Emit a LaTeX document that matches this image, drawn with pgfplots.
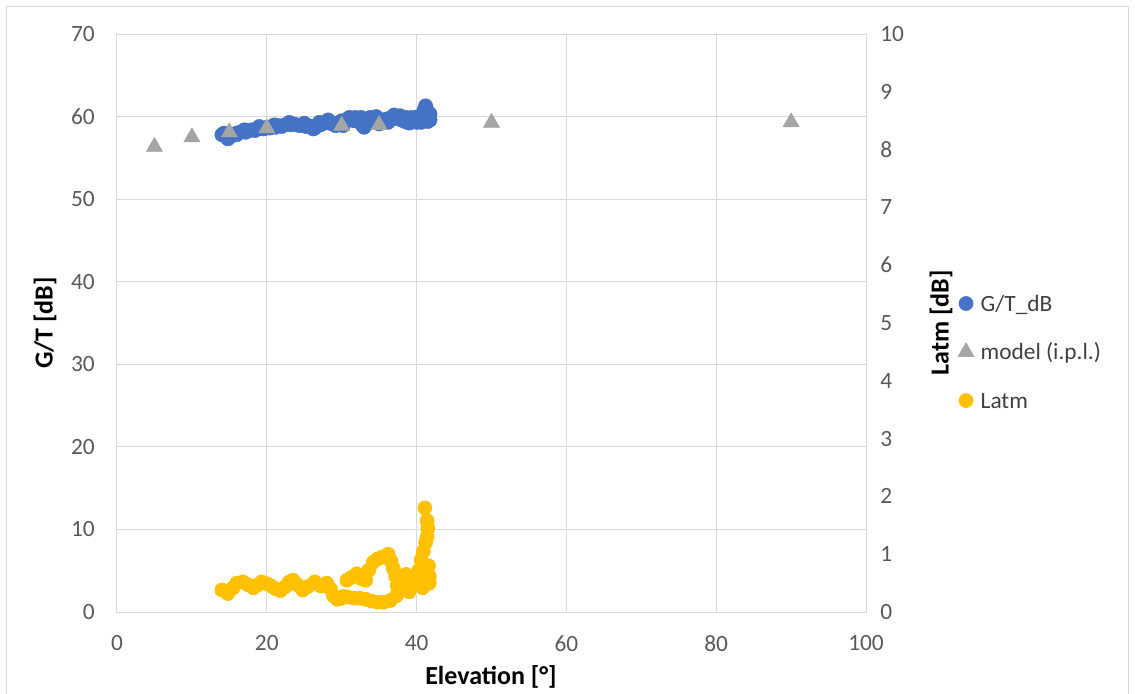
\documentclass[border=0pt]{standalone}
\usepackage{fontspec}
\setmainfont{Carlito}
\usepackage{pgfplots}
\pgfplotsset{compat=1.18}
\definecolor{cblue}{HTML}{4472C4}
\definecolor{cgray}{HTML}{A5A5A5}
\definecolor{cyel}{HTML}{FFC000}
\definecolor{gridc}{HTML}{D9D9D9}
\definecolor{tickc}{HTML}{595959}
\definecolor{legc}{HTML}{404040}

\pgfplotstableread{
x y
14.0 57.8
14.3 58.0
14.8 57.3
15.0 57.6
15.2 57.6
15.6 57.9
16.0 58.0
16.0 57.8
16.4 58.1
16.8 58.2
17.0 58.4
17.2 58.1
17.6 58.3
18.0 58.4
18.4 58.3
18.8 58.5
19.0 58.8
19.2 58.6
19.6 58.5
20.0 58.7
20.4 58.6
20.8 58.8
21.0 59.0
21.2 58.7
21.6 58.9
22.0 58.8
22.4 59.0
22.8 59.1
23.0 59.3
23.2 59.0
23.6 59.1
24.0 59.0
24.4 58.9
24.8 59.0
25.0 59.2
25.2 58.8
25.6 58.9
26.0 58.7
26.2 58.5
26.4 58.6
26.8 58.9
27.0 59.3
27.2 59.0
27.6 59.2
28.0 59.4
28.2 59.6
28.4 59.2
28.8 59.1
29.0 59.0
29.2 58.9
29.6 59.3
30.0 59.5
30.2 58.9
30.4 59.3
30.8 59.6
31.0 59.9
31.2 59.7
31.6 59.5
31.8 59.9
32.0 59.6
32.4 59.3
32.6 59.9
32.8 58.9
33.0 58.7
33.2 59.2
33.6 59.5
33.8 59.9
34.0 59.6
34.4 59.7
34.6 60.0
34.8 59.4
35.0 59.1
35.2 59.2
35.6 59.6
36.0 59.7
36.2 59.3
36.4 59.8
36.8 59.9
37.0 60.2
37.2 60.0
37.6 59.7
37.8 60.1
38.0 59.6
38.4 59.4
38.6 59.9
38.8 59.5
39.0 59.2
39.2 59.6
39.4 59.9
39.6 59.5
40.0 59.6
40.0 59.3
40.2 60.0
40.4 59.7
40.8 60.2
41.0 60.8
41.2 61.3
41.3 60.5
41.4 59.8
41.5 59.4
41.5 60.0
41.0 59.5
40.6 59.3
41.3 61.0
41.6 60.4
41.8 59.6
41.8 60.3
}\gtdata

\pgfplotstableread{
x y
5 56.34
10 57.5
15 58.1
20 58.6
30 58.9
35 59.0
50 59.26
90 59.32
}\modeldata

\pgfplotstableread{
x y
14.0 0.38
14.8 0.32
15.5 0.42
16.0 0.50
16.8 0.52
17.5 0.47
18.2 0.42
18.8 0.47
19.3 0.52
20.0 0.49
20.6 0.45
21.2 0.40
21.8 0.37
22.5 0.44
23.0 0.52
23.5 0.55
24.1 0.47
24.8 0.38
25.5 0.44
26.4 0.52
27.2 0.45
28.0 0.50
28.5 0.40
28.9 0.28
29.4 0.22
29.8 0.23
30.2 0.27
30.7 0.55
31.3 0.60
32.0 0.66
32.6 0.58
33.2 0.55
33.6 0.72
34.2 0.86
34.8 0.92
35.4 0.95
36.2 1.00
36.6 0.88
36.9 0.75
37.2 0.62
37.4 0.45
37.3 0.28
36.5 0.20
35.6 0.17
34.8 0.17
34.0 0.19
33.2 0.22
32.4 0.24
31.6 0.24
30.8 0.26
38.0 0.52
38.6 0.65
39.0 0.58
39.4 0.45
39.8 0.55
40.3 0.72
40.6 0.90
40.9 1.05
41.2 1.20
41.4 1.30
41.5 1.45
41.4 1.58
41.1 1.80
41.6 0.80
41.7 0.62
41.7 0.50
41.3 0.48
40.8 0.42
38.5 0.40
39.0 0.35
}\latmdata

\begin{document}
\begin{tikzpicture}
\pgfplotsset{
  base/.style={scale only axis, width=561.75pt, height=433.5pt,
    at={(0pt,0pt)}, anchor=south west, xmin=0, xmax=100,
    /pgf/number format/assume math mode=true,
    ticklabel style={font=\fontsize{17.5}{21}\selectfont, text=tickc, inner sep=0pt},
    tick style={draw=none},
    label style={font=\fontsize{19.5}{23}\selectfont\bfseries, text=black}},
  lgimg/.style={legend image code/.code={\path[draw=none,fill=none] (-7pt,-7pt) rectangle (7pt,7pt); \draw[##1] plot coordinates {(0pt,0pt)};}}
}
\begin{axis}[base,
  ymin=0, ymax=70, ytick={0,10,...,70}, xtick={0,20,...,100},
  grid=major, major grid style={draw=gridc, line width=0.75pt},
  axis line style={draw=gridc, line width=0.75pt},
  yticklabel style={anchor=east, xshift=-16.5pt},
  xticklabel style={anchor=north, yshift=-17.25pt},
  xlabel={Elevation [°]}, ylabel={G/T [dB]},
  xlabel style={at={(axis description cs:0.4993,-0.1125)}, anchor=center},
  ylabel style={at={(axis description cs:-0.0961,0.5)}, anchor=center},
]
\addplot[only marks, mark=*, mark size=5.3pt, color=cblue] table[x=x,y=y] {\gtdata};
\addplot[only marks, mark=triangle*, mark size=7pt, color=cgray] table[x=x,y=y] {\modeldata};
\end{axis}
\begin{axis}[base,
  axis x line=none, axis y line*=right,
  axis line style={draw=none},
  ymin=0, ymax=10, ytick={0,1,...,10},
  yticklabel style={anchor=west, xshift=10.5pt},
  ylabel={Latm [dB]},
  ylabel style={at={(axis description cs:1.1001,0.5)}, anchor=center},
  legend cell align=left,
  legend style={at={(axis description cs:1.1211,0.4498)}, anchor=west,
    draw=none, fill=none, inner sep=0pt, outer sep=0pt,
    row sep=22.4pt, column sep=4pt,
    font=\fontsize{17.5}{21}\selectfont, text=legc,
    nodes={inner sep=0pt, text height=11.6pt, text depth=0pt}},
]
\addlegendimage{only marks, mark=*, mark size=5.3pt, color=cblue, lgimg}
\addlegendentry{G/T\_dB}
\addlegendimage{only marks, mark=triangle*, mark size=7pt, color=cgray, lgimg}
\addlegendentry{model (i.p.l.)}
\addplot[only marks, mark=*, mark size=5.3pt, color=cyel, lgimg] table[x=x,y=y] {\latmdata};
\addlegendentry{Latm}
\end{axis}
\draw[gridc, line width=0.75pt] (-82.5pt,-70pt) rectangle (758.25pt,453.75pt);
\pgfresetboundingbox
\useasboundingbox (-87.75pt,-60.75pt) rectangle (763.5pt,459pt);
\end{tikzpicture}
\end{document}
